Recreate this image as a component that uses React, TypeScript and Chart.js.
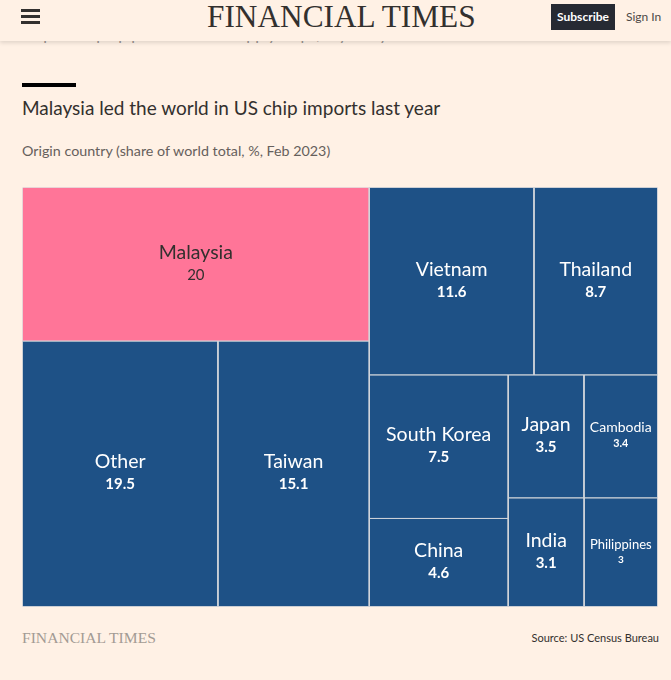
import React, { useEffect, useRef } from 'react';
import { Chart, registerables } from 'chart.js';

Chart.register(...registerables);

// ---- data ----
const countries = ['Malaysia', 'Other', 'Taiwan', 'Vietnam', 'Thailand', 'South Korea', 'China', 'Japan', 'Cambodia', 'India', 'Philippines'];
const shares = [20, 19.5, 15.1, 11.6, 8.7, 7.5, 4.6, 3.5, 3.4, 3.1, 3];
const highlighted = ['Malaysia'];

const title = 'Malaysia led the world in US chip imports last year';
const subtitle = 'Origin country (share of world total, %, Feb 2023)';
const source = 'Source: US Census Bureau';

// ---- style ----
const PAPER = '#fff1e5';
const BLUE = '#1e5186';
const PINK = '#ff7598';
const INK = '#33302e';
const SANS = 'Lato, "Noto Sans", sans-serif';
const SERIF = '"Liberation Serif", "Times New Roman", serif';
const TREE_W = 635;
const TREE_H = 419;

type Cell = { i: number; x0: number; y0: number; x1: number; y1: number };

// port of d3.treemapBinary
function binaryTreemap(values: number[], X0: number, Y0: number, X1: number, Y1: number): Cell[] {
  const n = values.length;
  const sums: number[] = [0];
  for (let i = 0; i < n; i++) sums.push(sums[i] + values[i]);
  const out: Cell[] = [];
  function partition(i: number, j: number, value: number, x0: number, y0: number, x1: number, y1: number) {
    if (i >= j - 1) {
      out.push({ i, x0, y0, x1, y1 });
      return;
    }
    const valueOffset = sums[i];
    const valueTarget = value / 2 + valueOffset;
    let k = i + 1;
    let hi = j - 1;
    while (k < hi) {
      const mid = (k + hi) >>> 1;
      if (sums[mid] < valueTarget) k = mid + 1;
      else hi = mid;
    }
    if (valueTarget - sums[k - 1] < sums[k] - valueTarget && i + 1 < k) --k;
    const valueLeft = sums[k] - valueOffset;
    const valueRight = value - valueLeft;
    if (x1 - x0 > y1 - y0) {
      const xk = value ? (x0 * valueRight + x1 * valueLeft) / value : x1;
      partition(i, k, valueLeft, x0, y0, xk, y1);
      partition(k, j, valueRight, xk, y0, x1, y1);
    } else {
      const yk = value ? (y0 * valueRight + y1 * valueLeft) / value : y1;
      partition(i, k, valueLeft, x0, y0, x1, yk);
      partition(k, j, valueRight, x0, yk, x1, y1);
    }
  }
  partition(0, n, sums[n], X0, Y0, X1, Y1);
  return out;
}

const cells = binaryTreemap(shares, 0, 0, TREE_W, TREE_H);

const labelPlugin = {
  id: 'cellLabels',
  afterDatasetsDraw(chart: any) {
    const { ctx } = chart;
    const xs = chart.scales.x;
    const ys = chart.scales.y;
    ctx.save();
    ctx.textAlign = 'center';
    ctx.textBaseline = 'middle';
    cells.forEach((c) => {
      const px0 = xs.getPixelForValue(c.x0);
      const px1 = xs.getPixelForValue(c.x1);
      const py0 = ys.getPixelForValue(c.y0);
      const py1 = ys.getPixelForValue(c.y1);
      const cx = (px0 + px1) / 2;
      const cy = (py0 + py1) / 2;
      const w = Math.abs(px1 - px0);
      const name = countries[c.i];
      const val = String(shares[c.i]);
      const hl = highlighted.includes(name);
      let size = 19.5;
      ctx.font = `${size}px ${SANS}`;
      while (ctx.measureText(name).width > w - 10 && size > 8) {
        size -= 0.5;
        ctx.font = `${size}px ${SANS}`;
      }
      const vSize = size * 0.77;
      ctx.fillStyle = hl ? INK : '#ffffff';
      ctx.fillText(name, cx, cy - size * 0.6);
      ctx.font = `${hl ? 'normal' : 'bold'} ${vSize}px ${SANS}`;
      ctx.fillText(val, cx, cy + size * 0.55);
    });
    ctx.restore();
  },
};

function TreemapChart() {
  const ref = useRef<HTMLCanvasElement | null>(null);
  useEffect(() => {
    if (!ref.current) return;
    const datasets = cells.map((c) => ({
      label: countries[c.i],
      data: [
        { x: c.x0, y: c.y0 },
        { x: c.x1, y: c.y0 },
        { x: c.x1, y: c.y1 },
        { x: c.x0, y: c.y1 },
        { x: c.x0, y: c.y0 },
      ],
      showLine: true,
      fill: 'shape',
      tension: 0,
      pointRadius: 0,
      pointHoverRadius: 0,
      backgroundColor: highlighted.includes(countries[c.i]) ? PINK : BLUE,
      borderColor: '#d3d6db',
      borderWidth: 1,
    }));
    const chart = new Chart(ref.current, {
      type: 'scatter',
      data: { datasets } as any,
      options: {
        animation: false,
        responsive: false,
        maintainAspectRatio: false,
        events: [],
        layout: { padding: { left: 1.5, top: 1.5, right: 0.5, bottom: 0.5 } },
        plugins: { legend: { display: false }, tooltip: { enabled: false } },
        scales: {
          x: { type: 'linear', min: 0, max: TREE_W, display: false },
          y: { type: 'linear', min: 0, max: TREE_H, reverse: true, display: false },
        },
      } as any,
      plugins: [labelPlugin],
    });
    return () => chart.destroy();
  }, []);
  return (
    <canvas
      ref={ref}
      width={637}
      height={421}
      style={{ position: 'absolute', left: 21, top: 186, width: 637, height: 421, display: 'block' }}
    />
  );
}

export default function App() {
  useEffect(() => {
    document.body.style.margin = '0';
    document.body.style.background = PAPER;
  }, []);
  return (
    <div style={{ position: 'fixed', inset: 0, background: PAPER, overflow: 'hidden', fontFamily: SANS, color: INK }}>
      {/* clipped paragraph peeking below the header */}
      <div style={{ position: 'absolute', left: 0, top: 41, width: 671, height: 3, overflow: 'hidden' }}>
        <div style={{ position: 'absolute', left: 22, top: -17, fontSize: 16, color: '#9a948f', whiteSpace: 'nowrap' }}>
          help to step up production of supply chips, say analysts.
        </div>
      </div>
      {/* header */}
      <div style={{ position: 'absolute', left: 0, top: 0, width: 671, height: 41, background: PAPER, boxShadow: '0 2px 4px rgba(0,0,0,0.12)' }}>
        <div style={{ position: 'absolute', left: 21, top: 9, width: 19, height: 3, background: INK }} />
        <div style={{ position: 'absolute', left: 21, top: 15, width: 19, height: 3, background: INK }} />
        <div style={{ position: 'absolute', left: 21, top: 21, width: 19, height: 3, background: INK }} />
        <div style={{ position: 'absolute', left: 207, top: -1, fontFamily: SERIF, fontSize: 31.3, lineHeight: '35px', color: INK, whiteSpace: 'nowrap' }}>
          FINANCIAL TIMES
        </div>
        <div style={{ position: 'absolute', left: 551, top: 4, width: 64, height: 26, background: '#262a33', color: '#fff', fontSize: 12, fontWeight: 'bold', lineHeight: '26px', textAlign: 'center' }}>
          Subscribe
        </div>
        <div style={{ position: 'absolute', left: 626, top: 4, fontSize: 12, lineHeight: '26px', color: '#4d4845', whiteSpace: 'nowrap' }}>Sign In</div>
      </div>
      {/* chart header */}
      <div style={{ position: 'absolute', left: 22, top: 83, width: 54, height: 4, background: '#000' }} />
      <div style={{ position: 'absolute', left: 22, top: 96, fontSize: 19, lineHeight: '24px', whiteSpace: 'nowrap', color: INK }}>{title}</div>
      <div style={{ position: 'absolute', left: 22, top: 141, fontSize: 14.3, lineHeight: '20px', whiteSpace: 'nowrap', color: '#66605c' }}>{subtitle}</div>
      <TreemapChart />
      {/* footer */}
      <div style={{ position: 'absolute', left: 22, top: 628, fontFamily: SERIF, fontSize: 15.6, lineHeight: '20px', color: '#a39b94', whiteSpace: 'nowrap' }}>
        FINANCIAL TIMES
      </div>
      <div style={{ position: 'absolute', right: 12, top: 630, fontSize: 11, lineHeight: '16px', color: INK, whiteSpace: 'nowrap' }}>{source}</div>
    </div>
  );
}
